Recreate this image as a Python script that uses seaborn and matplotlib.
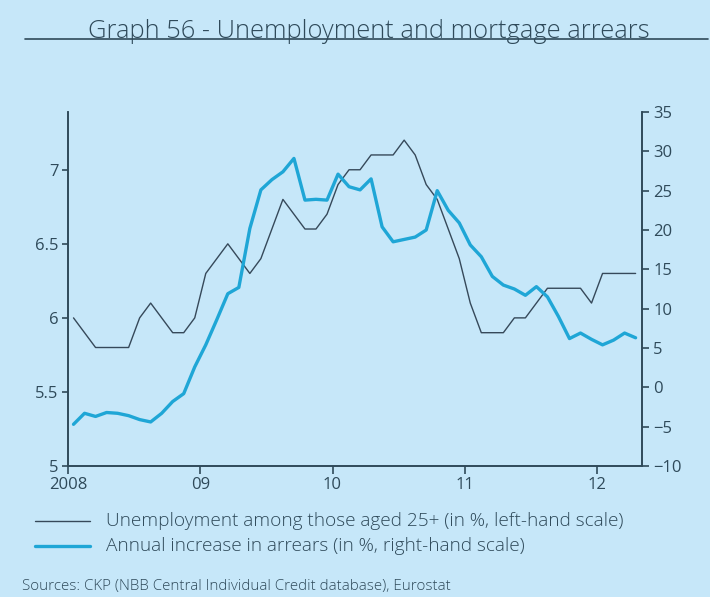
import numpy as np
import pandas as pd
import seaborn as sns
import matplotlib.pyplot as plt

# monthly data, Jan 2008 - Apr 2012
unemployment = [6.0, 5.9, 5.8, 5.8, 5.8, 5.8, 6.0, 6.1, 6.0, 5.9, 5.9, 6.0,
                6.3, 6.4, 6.5, 6.4, 6.3, 6.4, 6.6, 6.8, 6.7, 6.6, 6.6, 6.7,
                6.9, 7.0, 7.0, 7.1, 7.1, 7.1, 7.2, 7.1, 6.9, 6.8, 6.6, 6.4,
                6.1, 5.9, 5.9, 5.9, 6.0, 6.0, 6.1, 6.2, 6.2, 6.2, 6.2, 6.1,
                6.3, 6.3, 6.3, 6.3]
arrears = [-4.7, -3.3, -3.7, -3.2, -3.3, -3.6, -4.1, -4.4, -3.3, -1.8, -0.8, 2.6,
           5.4, 8.6, 11.9, 12.7, 20.2, 25.1, 26.4, 27.4, 29.1, 23.8, 23.9, 23.8,
           27.1, 25.5, 25.1, 26.5, 20.4, 18.5, 18.8, 19.1, 20.0, 25.0, 22.5, 20.9,
           18.1, 16.6, 14.1, 13.0, 12.5, 11.7, 12.8, 11.5, 9.0, 6.2, 6.9, 6.1,
           5.4, 6.0, 6.9, 6.3]

year_ticks = [2008, 2009, 2010, 2011, 2012]
year_labels = ['2008', '09', '10', '11', '12']

df = pd.DataFrame({
    't': 2008 + (np.arange(len(unemployment)) + 0.5) / 12,
    'unemployment': unemployment,
    'arrears': arrears,
})

bg = '#c6e7f9'
dark = '#2f4a5a'
blue = '#1fa6d6'

sns.set_theme(style='ticks')
plt.rcParams['font.family'] = ['Open Sans', 'DejaVu Sans']
plt.rcParams['text.color'] = dark
plt.rcParams['axes.labelcolor'] = dark

fig = plt.figure(figsize=(7.1, 5.97), dpi=100, facecolor=bg)
ax = fig.add_axes([68 / 710, 1 - 466 / 597, (642 - 68) / 710, (466 - 112) / 597])
ax.set_facecolor(bg)
ax2 = ax.twinx()

sns.lineplot(data=df, x='t', y='unemployment', ax=ax, color='#36495a', linewidth=1.0)
sns.lineplot(data=df, x='t', y='arrears', ax=ax2, color=blue, linewidth=2.4)

ax.set_xlim(2008, 2012.34)
ax.set_ylim(5, 7.39)
ax2.set_ylim(-10, 35)
ax.set_yticks([5, 5.5, 6, 6.5, 7])
ax.set_yticklabels(['5', '5.5', '6', '6.5', '7'])
ax2.set_yticks(range(-10, 40, 5))
ax.set_xticks(year_ticks)
ax.set_xticklabels(year_labels)
ax.set_xlabel('')
ax.set_ylabel('')
ax2.set_ylabel('')

for a in (ax, ax2):
    a.spines['top'].set_visible(False)
    for s in ('left', 'right', 'bottom'):
        a.spines[s].set_color(dark)
        a.spines[s].set_linewidth(1.2)
    a.tick_params(colors=dark, labelsize=12, width=1.2)
ax.tick_params(axis='y', length=4, pad=3)
ax.tick_params(axis='x', length=6, pad=2)
ax2.tick_params(axis='y', length=5, pad=3)

# title sitting on a rule
fig.text(0.519, 1 - 38 / 597, 'Graph 56 - Unemployment and mortgage arrears',
         ha='center', va='baseline', fontsize=18.4, fontweight='light', color=dark)
fig.add_artist(plt.Line2D([25 / 710, 708 / 710], [1 - 39 / 597, 1 - 39 / 597],
                          color=dark, linewidth=1.2))

# legend drawn below the chart
leg_items = [('Unemployment among those aged 25+ (in %, left-hand scale)', '#36495a', 1.0),
             ('Annual increase in arrears (in %, right-hand scale)', blue, 2.4)]
for i, (label, col, lw) in enumerate(leg_items):
    yy = 1 - (521 + 25 * i) / 597
    fig.add_artist(plt.Line2D([35 / 710, 90 / 710], [yy, yy], color=col, linewidth=lw))
    fig.text(106 / 710, yy, label, ha='left', va='center', fontsize=13.7,
             fontweight='light', color=dark)

fig.text(22 / 710, 1 - 587 / 597, 'Sources: CKP (NBB Central Individual Credit database), Eurostat',
         ha='left', va='center', fontsize=10.9, fontweight='light', color=dark)

plt.savefig('out.png', dpi=100, facecolor=bg)
